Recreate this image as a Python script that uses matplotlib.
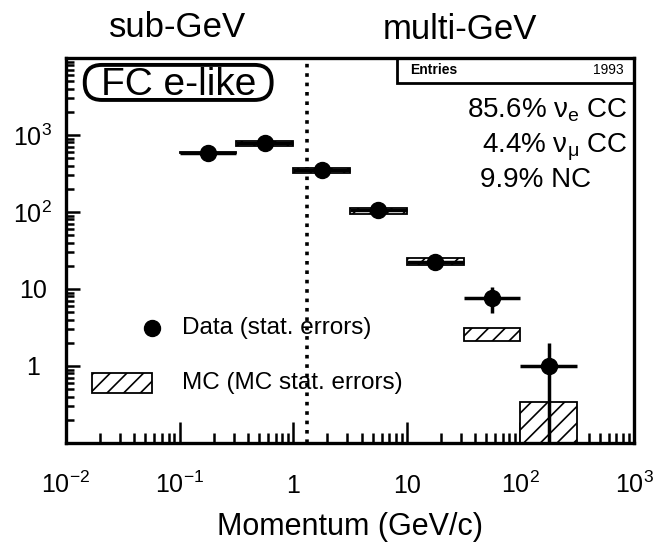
import matplotlib
matplotlib.use('Agg')
import matplotlib.pyplot as plt
import numpy as np
from matplotlib.patches import Rectangle, FancyBboxPatch
from matplotlib.ticker import LogLocator, NullFormatter

plt.rcParams['font.family'] = ['Liberation Sans', 'DejaVu Sans']
plt.rcParams['mathtext.fontset'] = 'custom'
plt.rcParams['mathtext.rm'] = 'Liberation Sans'
plt.rcParams['mathtext.it'] = 'Liberation Sans:italic'
plt.rcParams['hatch.linewidth'] = 1.2

# momentum bins (GeV/c), half-decade wide
edges = np.array([0.1, 0.316, 1.0, 3.16, 10.0, 31.6, 100.0, 316.0])
# data counts per bin
data_n = np.array([586, 795, 354, 105, 22.7, 7.7, 1.0])
# MC expectation and MC stat. error
mc_n = np.array([590, 780, 350, 104, 23.0, 2.6, 0.2])
mc_err = np.array([15, 55, 28, 9, 2.4, 0.5, 0.14])

xticks = [1e-2, 1e-1, 1, 10, 1e2, 1e3]
xticklabels = [r'$10^{-2}$', r'$10^{-1}$', '1', '10', r'$10^{2}$', r'$10^{3}$']
yticks = [1, 10, 100, 1000]
yticklabels = ['1', '10', r'$10^{2}$', r'$10^{3}$']
boundary = 1.33
entries = 1993

fig = plt.figure(figsize=(6.66, 5.48), dpi=100)
ax = fig.add_axes([0.0991, 0.1916, 0.8529, 0.7026])

lo = edges[:-1]
hi = edges[1:]
xc = np.sqrt(lo * hi)

# MC boxes
for l, h, m, e in zip(lo, hi, mc_n, mc_err):
    ax.add_patch(Rectangle((l, m - e), h - l, 2 * e, facecolor='white',
                           edgecolor='black', hatch='//', lw=1.3, zorder=2))

# data points
ylo = np.minimum(np.sqrt(data_n), data_n * 0.999)
ax.errorbar(xc, data_n, xerr=[xc - lo, hi - xc], yerr=[ylo, np.sqrt(data_n)],
            fmt='o', color='black', ms=11.5, elinewidth=2.5, capsize=0, zorder=3)

ax.axvline(boundary, color='black', ls=(0, (1, 1.6)), lw=2.6, zorder=1)

ax.set_xscale('log')
ax.set_yscale('log')
ax.set_xlim(1e-2, 1e3)
ax.set_ylim(0.1, 1e4)
ax.set_xticks(xticks, xticklabels, fontsize=18)
ax.set_yticks(yticks, yticklabels, fontsize=18)
ax.xaxis.set_minor_locator(LogLocator(base=10, subs=np.arange(2, 10), numticks=20))
ax.yaxis.set_minor_locator(LogLocator(base=10, subs=np.arange(2, 10), numticks=20))
ax.xaxis.set_minor_formatter(NullFormatter())
ax.yaxis.set_minor_formatter(NullFormatter())
ax.tick_params(which='both', direction='in', top=False, right=False, width=1.8)
ax.tick_params(axis='x', which='major', length=15, pad=36)
ax.tick_params(axis='x', which='minor', length=7)
ax.tick_params(axis='y', which='major', length=10, pad=24)
ax.tick_params(axis='y', which='minor', length=6)
for lab in ax.get_xticklabels():
    lab.set_va('baseline')
for lab in ax.get_yticklabels():
    lab.set_ha('center')
for sp in ax.spines.values():
    sp.set_linewidth(2.4)

ax.set_xlabel('Momentum (GeV/c)', fontsize=22)
ax.xaxis.set_label_coords(0.5, -0.218)
ax.xaxis.label.set_va('center')

# labels inside the frame
ax.add_patch(FancyBboxPatch((0.033, 0.891), 0.329, 0.091, transform=ax.transAxes,
                            boxstyle='round,pad=0,rounding_size=0.03',
                            mutation_aspect=568 / 385, fc='white', ec='black', lw=2.8))
ax.text(0.198, 0.930, 'FC e-like', transform=ax.transAxes, fontsize=28,
        ha='center', va='center')
ax.add_patch(Rectangle((0.583, 0.935), 0.417, 0.065, transform=ax.transAxes,
                       fill=False, ec='black', lw=2))
ax.text(0.606, 0.968, 'Entries', transform=ax.transAxes, fontsize=10,
        fontweight='bold', ha='left', va='center')
ax.text(0.981, 0.968, str(entries), transform=ax.transAxes, fontsize=10,
        ha='right', va='center')
ax.text(0.989, 0.865, r'85.6% $\mathrm{\nu}_\mathrm{e}$ CC', transform=ax.transAxes,
        fontsize=20, ha='right', va='center')
ax.text(0.989, 0.769, r'4.4% $\mathrm{\nu}_\mathrm{\mu}$ CC', transform=ax.transAxes,
        fontsize=20, ha='right', va='center')
ax.text(0.729, 0.683, '9.9% NC', transform=ax.transAxes,
        fontsize=20, ha='left', va='center')

# hand-made legend
ax.plot([0.151], [0.299], 'o', color='black', ms=11.5, transform=ax.transAxes)
ax.text(0.204, 0.299, 'Data (stat. errors)', transform=ax.transAxes,
        fontsize=17.5, ha='left', va='center')
ax.add_patch(Rectangle((0.046, 0.130), 0.105, 0.052, transform=ax.transAxes,
                       facecolor='white', edgecolor='black', hatch='//', lw=1.3))
ax.text(0.204, 0.156, 'MC (MC stat. errors)', transform=ax.transAxes,
        fontsize=17.5, ha='left', va='center')

fig.text(0.267, 0.950, 'sub-GeV', fontsize=25, ha='center', va='center')
fig.text(0.691, 0.946, 'multi-GeV', fontsize=25, ha='center', va='center')

fig.savefig('out.png', dpi=100)
